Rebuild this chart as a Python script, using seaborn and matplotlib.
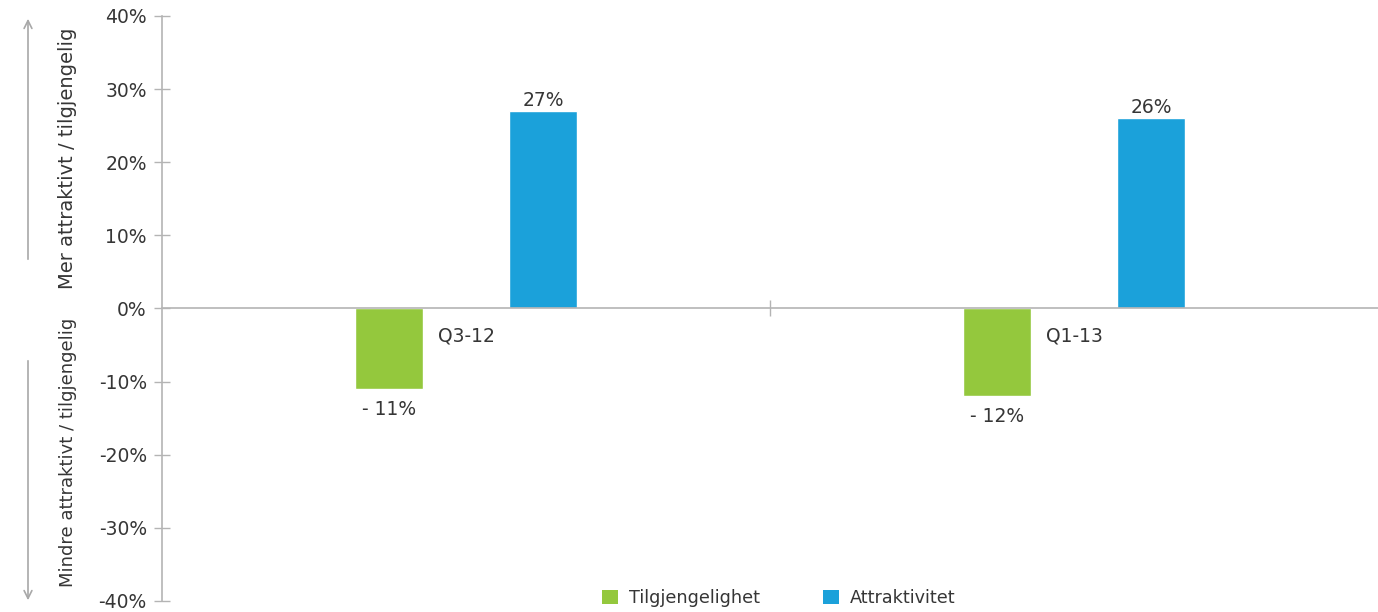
import pandas as pd
import numpy as np
import seaborn as sns
import matplotlib.pyplot as plt
from matplotlib.patches import Patch

# data
periods = ["Q3-12", "Q1-13"]
tilgjengelighet = [-11, -12]
attraktivitet = [27, 26]
series_names = ["Tilgjengelighet", "Attraktivitet"]
colors = ["#94C83D", "#1BA1DA"]

df = pd.DataFrame({
    "period": periods * 2,
    "serie": [series_names[0]] * 2 + [series_names[1]] * 2,
    "verdi": tilgjengelighet + attraktivitet,
})

sns.set_style("white")
plt.rcParams["font.family"] = ["DejaVu Sans"]
text_col = "#363636"
axis_col = "#b4b4b4"

fig = plt.figure(figsize=(13.78, 6.12), dpi=100)
ax = fig.add_axes([0.1176, 0.018, 0.8824, 0.956])

sns.barplot(data=df, x="period", y="verdi", hue="serie", hue_order=series_names,
            palette=colors, width=0.506, gap=0.557, saturation=1, ax=ax, legend=False)

ax.set_xlim(-0.5, 1.5)
ax.set_ylim(-40, 40)
ax.set_yticks(np.arange(-40, 41, 10))
ax.set_yticklabels([f"{v}%" for v in np.arange(-40, 41, 10)])
ax.set_xlabel("")
ax.set_ylabel("")

# value labels ("- 11%" style for negatives)
for cont, vals in zip(ax.containers, [tilgjengelighet, attraktivitet]):
    for bar, v in zip(cont, vals):
        lab = f"{v}%" if v > 0 else f"- {abs(v)}%"
        ax.annotate(lab, (bar.get_x() + bar.get_width() / 2, v),
                    xytext=(0, 1 if v > 0 else -8), textcoords="offset points",
                    ha="center", va="bottom" if v > 0 else "top",
                    fontsize=13.5, color=text_col)

# spines
for s in ["top", "right"]:
    ax.spines[s].set_visible(False)
ax.spines["left"].set_color(axis_col)
ax.spines["bottom"].set_color(axis_col)
ax.spines["bottom"].set_position(("data", 0))
ax.spines["left"].set_linewidth(1.2)
ax.spines["bottom"].set_linewidth(1.2)

ax.tick_params(axis="y", left=True, direction="inout", length=12, width=1, color=axis_col,
               labelsize=13.5, labelcolor=text_col, pad=5)
ax.tick_params(axis="x", which="major", length=0, labelsize=13.5, labelcolor=text_col, pad=13)
ax.set_xticks([0.5], minor=True)
ax.tick_params(axis="x", which="minor", bottom=True, direction="inout", length=12, width=1,
               color=axis_col)

# side labels and arrows
fig.text(68 / 1378, 1 - 158 / 612, "Mer attraktivt / tilgjengelig", rotation=90,
         ha="center", va="center", fontsize=14, color=text_col)
fig.text(68 / 1378, 1 - 452 / 612, "Mindre attraktivt / tilgjengelig", rotation=90,
         ha="center", va="center", fontsize=13, color=text_col)
arrow = dict(arrowstyle="->", color="#a8a8a8", lw=1.2, mutation_scale=14)
ax.annotate("", xy=(28 / 1378, 1 - 16 / 612), xytext=(28 / 1378, 1 - 262 / 612),
            xycoords="figure fraction", textcoords="figure fraction", arrowprops=arrow)
ax.annotate("", xy=(28 / 1378, 1 - 603 / 612), xytext=(28 / 1378, 1 - 358 / 612),
            xycoords="figure fraction", textcoords="figure fraction", arrowprops=arrow)

# legend
handles = [Patch(facecolor=c, edgecolor="none") for c in colors]
fig.legend(handles, series_names, loc="center", bbox_to_anchor=(0.565, 0.023), ncol=2,
           frameon=False, fontsize=12.7, handlelength=0.9, handleheight=0.9,
           handletextpad=0.6, columnspacing=3.6, labelcolor=text_col)

fig.savefig("out.png", dpi=100)
